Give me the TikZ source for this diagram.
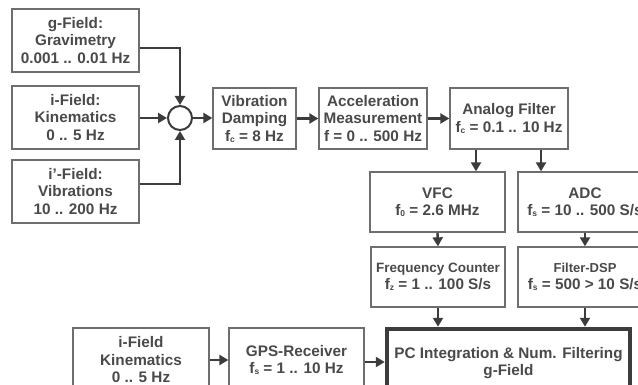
\documentclass[tikz,border=0pt]{standalone}
\usepackage{fontspec}
\setmainfont{Liberation Sans}
\usetikzlibrary{arrows.meta}
\definecolor{txt}{HTML}{4A4A4A}
\definecolor{boxc}{HTML}{6E6E6E}
\definecolor{arrc}{HTML}{3C3C3C}
\newcommand\fsub[1]{\raisebox{-1pt}{\fontsize{8.5}{8.5}\selectfont #1}}
\begin{document}
\begin{tikzpicture}[x=1pt,y=-1pt,
  box/.style={draw=boxc, line width=1.3pt, inner sep=0pt, align=center, text=txt,
    font=\fontsize{15.3}{17.5}\selectfont\bfseries},
  thickbox/.style={box, draw=arrc, line width=4.5pt},
  arr/.style={draw=arrc, line width=2.4pt, -{Triangle[length=9pt,width=10pt]}},
  sumnode/.style={circle, draw=arrc, line width=2pt, minimum size=24pt, inner sep=0pt}]
\fill[white] (0,0) rectangle (638,385);
\clip (0,0) rectangle (638,385);
% left inputs
\node[box, minimum width=127pt, minimum height=63pt] (g) at (75.5,40.5) {g-Field:\\Gravimetry\\0.001 .. 0.01 Hz};
\node[box, minimum width=127pt, minimum height=63pt] (i) at (75.5,117.5) {i-Field:\\Kinematics\\0 .. 5 Hz};
\node[box, minimum width=127pt, minimum height=63pt] (ip) at (75.5,191.5) {i'-Field:\\Vibrations\\10 .. 200 Hz};
\node[sumnode] (c) at (180,118) {};
% chain
\node[box, minimum width=83pt, minimum height=61pt] (vib) at (254.5,118.5) {Vibration\\Damping\\f\fsub{c} = 8 Hz};
\node[box, minimum width=108pt, minimum height=61pt] (acc) at (373,118.5) {Acceleration\\Measurement\\f = 0 .. 500 Hz};
\node[box, minimum width=118pt, minimum height=61pt] (ana) at (509,118.5) {Analog Filter\\f\fsub{c} = 0.1 .. 10 Hz};
% converters
\node[box, minimum width=135pt, minimum height=60pt] (vfc) at (437.5,202) {VFC\\f\fsub{0} = 2.6 MHz};
\node[box, minimum width=134pt, minimum height=60pt] (adc) at (585,202) {ADC\\f\fsub{s} = 10 .. 500 S/s};
\node[box, minimum width=134pt, minimum height=60pt] (fc) at (438,277) {{\fontsize{13.5}{16}\selectfont Frequency Counter}\\f\fsub{z} = 1 .. 100 S/s};
\node[box, minimum width=134pt, minimum height=60pt] (dsp) at (585,277) {{\fontsize{13}{16}\selectfont Filter-DSP}\\f\fsub{s} = 500 > 10 S/s};
% bottom row
\node[thickbox, minimum width=243pt, minimum height=68pt] (pc) at (508.5,363) {PC Integration \& Num. Filtering\\g-Field};
\node[box, minimum width=136pt, minimum height=64pt] (ik) at (141,360) {i-Field\\Kinematics\\0 .. 5 Hz};
\node[box, minimum width=135pt, minimum height=64pt] (gps) at (296.5,360) {GPS-Receiver\\f\fsub{s} = 1 .. 10 Hz};
% connectors
\draw[arr] ([yshift=-7.5pt]g.east) -| (c.north);
\draw[arr] (i.east |- c) -- (c.west);
\draw[arr] ([yshift=7.5pt]ip.east) -| (c.south);
\draw[arr] (c.east) -- (vib.west |- c);
\draw[arr] (vib.east) -- (acc.west);
\draw[arr] (acc.east) -- (ana.west);
\draw[arr] ([xshift=-33pt]ana.south) -- ([xshift=-33pt]ana.south |- vfc.north);
\draw[arr] ([xshift=32pt]ana.south) -- ([xshift=32pt]ana.south |- adc.north);
\draw[arr] (vfc.south) -- (fc.north);
\draw[arr] (adc.south) -- (dsp.north);
\draw[arr] (fc.south) -- (fc.south |- pc.north);
\draw[arr] (dsp.south) -- (dsp.south |- pc.north);
\draw[arr] (ik.east) -- (gps.west);
\draw[arr] ([yshift=-2pt]gps.east) -- ([yshift=-2pt]gps.east -| pc.west);
\end{tikzpicture}
\end{document}
